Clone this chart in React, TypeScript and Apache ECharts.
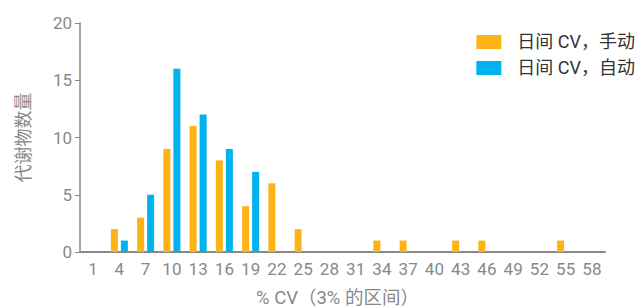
import React, { useEffect, useRef } from "react";
import * as echarts from "echarts";

const categories = ["1","4","7","10","13","16","19","22","25","28","31","34","37","40","43","46","49","52","55","58"];
const manualCounts = [0,2,3,9,11,8,4,6,2,0,0,1,1,0,1,1,0,0,1,0];
const autoCounts = [0,1,5,16,12,9,7,0,0,0,0,0,0,0,0,0,0,0,0,0];
const seriesNames = ["日间 CV，手动", "日间 CV，自动"];
const yTicks = { min: 0, max: 20, interval: 5 };

export default function App() {
  const ref = useRef<HTMLDivElement>(null);
  useEffect(() => {
    if (!ref.current) return;
    const chart = echarts.init(ref.current, undefined, { renderer: "svg" });
    const font = "Roboto, 'Noto Sans CJK SC', sans-serif";
    chart.setOption({
      animation: false,
      textStyle: { fontFamily: font },
      grid: { left: 80, right: 37, top: 23, bottom: 56, outerBoundsMode: "none", containLabel: false },
      legend: {
        right: 2,
        top: 28,
        orient: "vertical",
        itemWidth: 25,
        itemHeight: 14,
        itemGap: 8,
        icon: "rect",
        textStyle: { fontSize: 18, color: "#333", fontFamily: font, padding: [0, 0, 0, 11] },
        data: seriesNames,
      },
      xAxis: {
        type: "category",
        data: categories,
        name: "% CV（3% 的区间）",
        nameLocation: "middle",
        nameGap: 37,
        nameTextStyle: { fontSize: 18.5, color: "#888", padding: [0, 10, 0, 0] },
        axisLine: { lineStyle: { color: "#888", width: 2 } },
        axisTick: { show: false },
        axisLabel: { fontSize: 17, color: "#888", margin: 8, interval: 0 },
      },
      yAxis: {
        type: "value",
        min: yTicks.min,
        max: yTicks.max,
        interval: yTicks.interval,
        name: "代谢物数量",
        nameLocation: "middle",
        nameGap: 48,
        nameTextStyle: { fontSize: 18, color: "#888" },
        axisLine: { show: true, lineStyle: { color: "#888", width: 1.5 } },
        axisTick: { show: true, length: 5, lineStyle: { color: "#888" } },
        axisLabel: { fontSize: 17, color: "#888", margin: 8 },
        splitLine: { show: false },
      },
      series: [
        {
          name: seriesNames[0],
          type: "bar",
          data: manualCounts,
          barWidth: 7,
          barGap: "43%",
          itemStyle: { color: "#FDB316" },
        },
        {
          name: seriesNames[1],
          type: "bar",
          data: autoCounts,
          barWidth: 7,
          itemStyle: { color: "#00B3EE" },
        },
      ],
    });
    return () => chart.dispose();
  }, []);
  return <div ref={ref} style={{ width: 642, height: 308, position: "absolute", left: 0, top: 0 }} />;
}
